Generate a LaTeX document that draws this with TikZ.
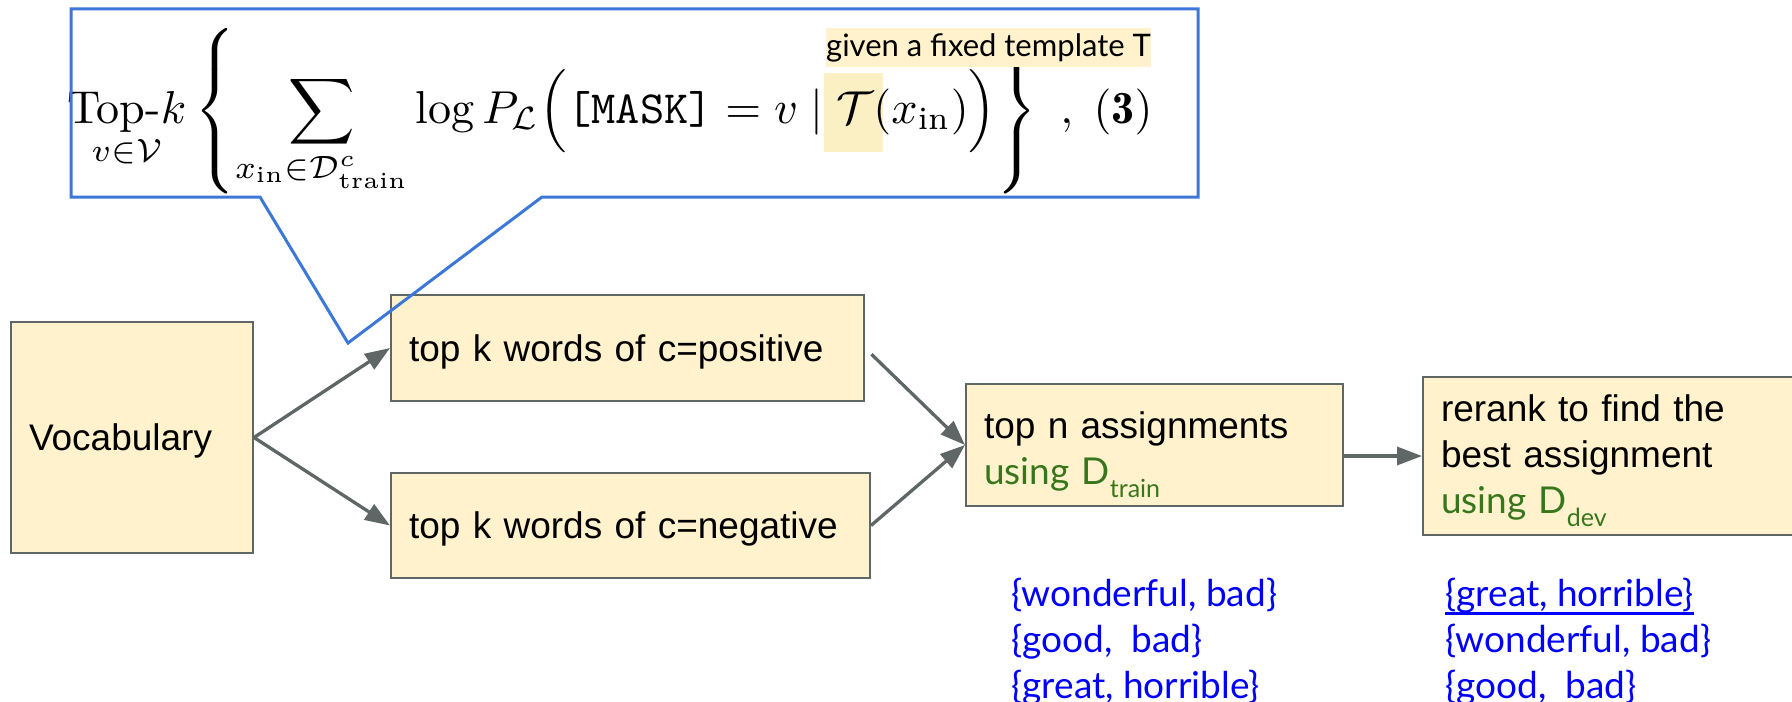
\documentclass[tikz,border=0pt]{standalone}
\usepackage{amsmath, amssymb}
\usepackage{graphicx}
\usepackage{fontspec}
\newfontfamily\arialfont{Liberation Sans}
\newfontfamily\latofont{Lato}
\usepackage{tikz}
\usetikzlibrary{arrows.meta, positioning}
\usepackage{xcolor}
\definecolor{boxfill}{HTML}{FFF2CC}
\definecolor{boxline}{HTML}{5F6666}
\definecolor{calloutblue}{HTML}{3C78D8}
\definecolor{darkgreen}{HTML}{38761D}
\definecolor{listblue}{HTML}{0000FF}
\definecolor{hlyellow}{HTML}{FAF0C3}
\newcommand{\lowsub}[1]{\raisebox{-6.5pt}{\fontsize{12.5pt}{12.5pt}\selectfont #1}}
\newcommand{\bestline}[1]{\setbox0=\hbox{#1}\rlap{\rule[-4pt]{\wd0}{1.5pt}}\box0}

\begin{document}
\begin{tikzpicture}[x=0.5pt, y=-0.5pt,
  box/.style={rectangle, draw=boxline, line width=1pt, fill=boxfill,
              inner xsep=9pt, align=left,
              font=\arialfont\fontsize{18.5pt}{23pt}\selectfont},
  onebox/.style={box, text depth=0pt},
  arrow/.style={-{Triangle[length=12.5pt, width=9pt]}, line width=1.65pt, boxline},
  wordlist/.style={anchor=north west, align=left, inner sep=0pt, text=listblue,
                   font=\latofont\fontsize{18.5pt}{23pt}\selectfont}
]
\useasboundingbox (0,0) rectangle (1792,701);
\clip (0,0) rectangle (1792,701);

% formula with the highlighted template
\fill[hlyellow] (824,73) rectangle (883,152);
\node[anchor=base west, inner sep=0pt] (formula) at (67,123)
  {\resizebox{542.5pt}{!}{$\displaystyle
   \mathop{\text{Top-}k}\limits_{v\in\mathcal{V}}
   \left\{ \sum_{x_{\mathrm{in}}\in\mathcal{D}^{c}_{\mathrm{train}}}
   \log P_{\mathcal{L}}\Big( \texttt{[MASK]} = v \mid \mathcal{T}(x_{\mathrm{in}}) \Big)
   \right\}\,\,,\;\mathbf{(3)}$}};
\node[fill=boxfill, inner sep=0pt, minimum width=161.5pt, minimum height=19.5pt,
      font=\latofont\fontsize{15.5pt}{18pt}\selectfont] (given) at (988.5,47.5)
  {given a fixed template T};

% left column
\node[onebox, text width=103pt, minimum height=115.5pt] (vocab) at (132,437.5) {Vocabulary};

% middle: words per class
\node[onebox, text width=218.5pt, minimum height=53pt] (pos) at (627.5,348)
  {top k words of c=positive};
\node[onebox, text width=221.5pt, minimum height=52.5pt] (neg) at (630.5,525.5)
  {top k words of c=negative};

% right: search and rerank
\node[box, text width=170.5pt, minimum height=61pt] (topn) at (1154.5,445)
  {\rule{0pt}{23.5pt}top n assignments\\{\latofont\color{darkgreen}using D\lowsub{train}}};
\node[box, text width=182pt, minimum height=79pt] (rerank) at (1623,456)
  {\rule{0pt}{18pt}rerank to find the\\best assignment\\{\latofont\color{darkgreen}using D\lowsub{dev}}};

% arrows
\draw[arrow] (vocab.east) -- (pos.west);
\draw[arrow] (vocab.east) -- (neg.west);
\draw[arrow, shorten <=4.5pt] (pos.east) -- (topn.west);
\draw[arrow] (neg.east) -- (topn.west);
\draw[arrow] (rerank.west -| topn.east) -- (rerank.west);

% callout round the formula
\draw[calloutblue, line width=1.5pt] (71,9) -- (1198,9) -- (1198,197) -- (542,197)
  -- (348,343) -- (260,197) -- (71,197) -- cycle;

% label words found at each stage
\node[wordlist] (trainlist) at (1011,578)
  {\{wonderful, bad\}\\\{good,~ bad\}\\\{great, horrible\}};
\node[wordlist] (devlist) at (1445,578)
  {\bestline{\{great, horrible\}}\\\{wonderful, bad\}\\\{good,~ bad\}};

\end{tikzpicture}
\end{document}
